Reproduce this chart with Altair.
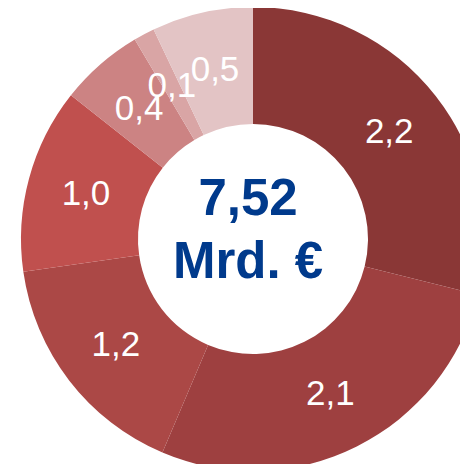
import altair as alt
import pandas as pd

labels = ["2,2", "2,1", "1,2", "1,0", "0,4", "0,1", "0,5"]
values = [2.17, 2.07, 1.23, 0.97, 0.44, 0.11, 0.53]
colors = ["#8A3736", "#9E4040", "#AB4846", "#C0504E", "#CC8383", "#D9A5A5", "#E3C4C5"]
center_lines = ["7,52", "Mrd. €"]

df = pd.DataFrame({"label": labels, "value": values, "idx": list(range(len(labels)))})

cx, cy = 245, 231

base = alt.Chart(df).encode(
    theta=alt.Theta("value:Q", stack=True),
    order=alt.Order("idx:Q"),
)

arcs = base.mark_arc(outerRadius=232, innerRadius=115).encode(
    color=alt.Color("label:N", scale=alt.Scale(domain=labels, range=colors), legend=None),
    x=alt.value(cx),
    y=alt.value(cy),
)

text = base.mark_text(radius=173, font="Liberation Sans", fontSize=35, color="white",
                      align="center", baseline="middle").encode(
    text="label:N",
    x=alt.value(cx),
    y=alt.value(cy),
)

cdf = pd.DataFrame({"t": center_lines, "yy": [207, 270]})
center = alt.Chart(cdf).mark_text(font="Liberation Sans", fontSize=51, fontWeight="bold",
                                  color="#003A8C", align="center", baseline="alphabetic").encode(
    text="t:N",
    x=alt.value(240),
    y=alt.Y("yy:Q", scale=None),
)

chart = alt.layer(arcs, text, center).properties(
    width=452, height=456, padding=0, autosize=alt.AutoSizeParams(type="none")
).configure_view(stroke=None)

chart.save("out.html", embed_options={"renderer": "svg", "actions": False})
